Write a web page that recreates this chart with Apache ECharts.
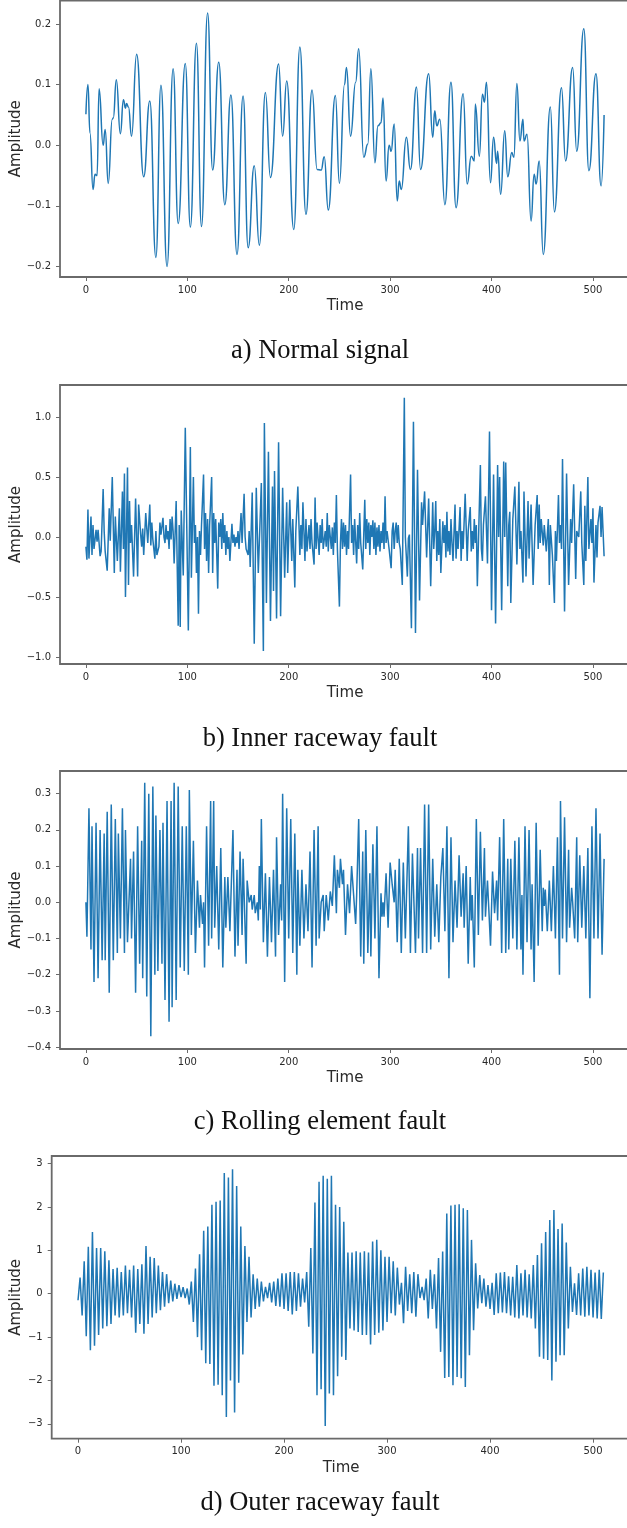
<!DOCTYPE html>
<html><head><meta charset="utf-8">
<script src="https://cdn.jsdelivr.net/npm/echarts@6.0.0/dist/echarts.min.js"></script>
<style>html,body{margin:0;padding:0;background:#fff}#chart{width:627px;height:1528px}</style>
</head><body><div id="chart"></div>
<script>
// ---------- DATA ----------
const xTicks = [0, 100, 200, 300, 400, 500];
const captions = ['a) Normal signal', 'b) Inner raceway fault', 'c) Rolling element fault', 'd) Outer raceway fault'];
const yTicksNormal = [-0.2, -0.1, 0, 0.1, 0.2];
const yTicksInner = [-1.0, -0.5, 0, 0.5, 1.0];
const yTicksRolling = [-0.4, -0.3, -0.2, -0.1, 0, 0.1, 0.2, 0.3];
const yTicksOuter = [-3, -2, -1, 0, 1, 2, 3];

// [time, amplitude] turning points of the normal signal
const normalSignal = [[0,0.051],[2,0.10],[4,0.02],[7,-0.073],[9,-0.048],[11,-0.05],[13,0.093],[17,0.0],[19,0.026],[22,-0.063],[26,0.043],[27,0.045],[30,0.108],[34,0.019],[37,0.075],[39,0.061],[40,0.069],[42,0.063],[45,0.015],[50,0.150],[57,-0.052],[63,0.073],[69,-0.185],[74,0.099],[80,-0.20],[86,0.126],[91,-0.129],[98,0.135],[103,-0.135],[109,0.168],[114,-0.134],[120,0.218],[125,-0.041],[131,0.137],[137,-0.098],[143,0.083],[149,-0.180],[155,0.081],[160,-0.169],[166,-0.034],[171,-0.165],[177,0.087],[182,-0.053],[190,0.134],[194,0.015],[198,0.106],[205,-0.139],[211,0.162],[217,-0.114],[223,0.091],[228,-0.040],[232,-0.041],[235,-0.019],[239,-0.107],[246,0.082],[250,-0.063],[255,0.10],[257,0.128],[261,0.015],[266,0.104],[269,0.159],[274,-0.020],[278,0.002],[281,0.126],[285,-0.029],[288,0.032],[291,0.037],[293,0.078],[296,-0.059],[299,0.0],[301,-0.01],[304,0.035],[307,-0.092],[309,-0.059],[311,-0.073],[316,0.013],[320,-0.040],[326,0.096],[330,-0.040],[338,0.118],[342,0.013],[344,0.057],[346,0.032],[349,0.043],[354,-0.098],[360,0.104],[365,-0.103],[372,0.085],[376,-0.064],[380,-0.018],[383,-0.026],[384,0.068],[388,-0.018],[391,0.084],[393,0.071],[395,0.104],[399,-0.062],[402,0.013],[405,-0.03],[406,-0.01],[409,-0.081],[413,0.024],[416,-0.052],[420,-0.012],[422,-0.02],[425,0.102],[428,0.007],[431,0.043],[432,0.007],[435,0.018],[439,-0.125],[442,-0.048],[444,-0.064],[447,-0.026],[451,-0.180],[458,0.063],[462,-0.110],[469,0.095],[473,-0.026],[480,0.128],[484,-0.010],[491,0.192],[496,-0.042],[503,0.118],[508,-0.067],[511,0.050]];

// [time, amplitude] inner raceway fault
const innerFault = [[0,-0.08],[1,-0.19],[2,0.23],[3,-0.18],[5,0.17],[6,-0.15],[7,0.10],[8,-0.10],[10,0.06],[11,-0.04],[12,0.06],[14,-0.16],[15,-0.12],[17,0.40],[18,0.05],[19,-0.12],[21,-0.28],[23,0.24],[24,-0.03],[26,0.50],[28,-0.30],[29,0.17],[31,-0.20],[33,0.24],[34,-0.29],[36,0.38],[37,-0.10],[38,0.53],[39,-0.50],[41,0.58],[42,-0.40],[43,0.30],[44,-0.05],[45,0.10],[47,-0.33],[49,0.32],[51,-0.33],[52,0.27],[54,0.02],[55,-0.08],[56,0.07],[57,-0.15],[59,0.20],[61,-0.05],[63,0.27],[64,-0.07],[65,0.12],[66,-0.02],[68,-0.18],[69,0.05],[70,-0.15],[72,-0.08],[73,0.12],[74,0.02],[76,0.16],[77,0.0],[78,-0.05],[79,0.10],[80,-0.02],[81,0.05],[82,-0.10],[83,0.15],[84,-0.02],[85,0.17],[86,0.05],[87,-0.22],[89,0.30],[91,-0.74],[92,0.10],[93,-0.75],[94,0.22],[96,-0.32],[98,0.91],[101,-0.78],[103,0.75],[104,-0.34],[106,0.50],[107,-0.05],[108,0.10],[109,-0.30],[110,0.0],[111,-0.64],[112,0.05],[113,-0.15],[114,0.10],[116,0.52],[117,-0.10],[118,0.20],[119,-0.20],[120,0.15],[121,-0.30],[122,0.10],[124,0.50],[125,-0.30],[126,0.20],[127,-0.05],[128,0.15],[130,-0.43],[131,0.12],[132,0.0],[133,0.15],[134,-0.10],[135,0.20],[136,-0.05],[137,0.10],[138,-0.15],[139,0.05],[140,-0.10],[141,0.0],[142,-0.20],[144,0.11],[145,-0.05],[146,0.02],[147,-0.08],[148,0.0],[149,-0.05],[150,0.05],[151,-0.10],[153,0.20],[154,-0.05],[156,0.36],[157,0.0],[158,-0.10],[160,-0.15],[161,0.05],[162,-0.25],[164,0.37],[166,-0.89],[168,0.41],[170,-0.30],[173,0.45],[175,-0.95],[176,0.95],[178,-0.55],[180,0.71],[182,-0.70],[184,0.42],[185,-0.45],[186,0.55],[188,-0.68],[190,0.79],[192,-0.66],[194,0.41],[196,-0.34],[198,0.29],[199,-0.30],[201,0.31],[203,-0.20],[204,0.15],[206,-0.42],[207,0.05],[209,0.42],[211,-0.15],[212,0.10],[213,-0.10],[214,0.29],[216,-0.20],[217,0.15],[218,-0.12],[220,0.10],[221,-0.10],[222,0.15],[223,-0.05],[225,-0.23],[226,0.33],[227,-0.10],[228,0.12],[230,-0.15],[231,0.10],[232,-0.05],[233,0.15],[234,-0.10],[236,0.05],[237,-0.08],[238,0.20],[239,-0.12],[240,0.10],[242,-0.10],[243,0.08],[244,-0.15],[245,0.12],[246,-0.05],[247,0.35],[248,-0.10],[250,-0.58],[251,-0.05],[252,0.15],[253,-0.10],[254,0.12],[255,-0.08],[256,0.10],[257,-0.15],[258,0.05],[259,-0.10],[261,0.52],[262,-0.05],[263,0.10],[264,-0.15],[265,0.15],[267,-0.22],[268,0.10],[269,-0.10],[270,0.20],[271,-0.05],[273,-0.27],[275,0.31],[276,-0.10],[277,0.15],[278,-0.05],[279,0.12],[280,-0.15],[281,0.10],[282,0.0],[283,0.14],[284,-0.10],[285,0.12],[286,-0.15],[287,0.08],[288,-0.08],[289,0.10],[290,-0.12],[291,0.05],[292,-0.05],[293,0.12],[294,-0.10],[295,0.34],[296,-0.05],[297,0.05],[299,-0.10],[301,-0.26],[302,0.05],[303,0.12],[304,-0.10],[305,0.05],[306,0.12],[307,-0.05],[308,0.10],[309,-0.05],[310,-0.10],[312,-0.40],[314,1.16],[315,0.0],[317,-0.33],[318,-0.01],[319,0.02],[321,-0.76],[323,0.96],[325,-0.80],[327,0.56],[329,-0.53],[331,0.29],[332,0.10],[334,0.38],[336,-0.17],[338,0.32],[340,-0.41],[342,0.29],[343,-0.10],[344,0.05],[345,0.30],[346,-0.20],[347,0.05],[348,-0.15],[349,0.15],[350,-0.30],[352,0.13],[353,-0.05],[354,0.10],[355,-0.17],[356,0.21],[357,-0.12],[358,0.05],[359,-0.15],[360,0.15],[361,-0.05],[362,-0.20],[364,0.27],[365,-0.18],[366,0.05],[367,-0.10],[369,0.25],[370,-0.20],[371,0.05],[372,-0.10],[374,0.36],[376,-0.20],[377,0.05],[379,0.25],[380,-0.12],[381,0.05],[382,-0.10],[383,0.15],[384,-0.05],[385,0.10],[386,-0.41],[389,0.60],[390,-0.10],[391,-0.20],[392,0.10],[394,0.34],[396,-0.22],[398,0.88],[400,-0.61],[402,0.52],[404,-0.72],[406,0.60],[407,0.0],[408,0.50],[410,-0.61],[412,0.63],[413,0.0],[414,0.62],[416,-0.41],[417,0.10],[418,0.21],[419,-0.55],[421,0.15],[423,0.42],[425,-0.23],[426,0.10],[427,0.46],[428,-0.10],[429,0.05],[431,-0.38],[432,0.38],[434,-0.33],[436,0.30],[437,-0.18],[439,0.27],[441,-0.40],[443,0.10],[445,0.35],[446,-0.10],[447,0.27],[448,-0.05],[449,0.15],[451,-0.07],[452,0.10],[454,-0.12],[456,0.15],[457,-0.40],[458,0.10],[460,-0.15],[462,-0.55],[463,0.05],[464,-0.20],[466,0.35],[467,-0.05],[468,0.10],[469,-0.10],[470,0.65],[472,-0.62],[474,0.53],[476,-0.40],[478,0.15],[479,-0.05],[481,0.44],[483,-0.35],[484,0.05],[486,0.0],[488,0.38],[489,-0.05],[491,-0.40],[492,0.26],[493,-0.20],[495,0.50],[496,-0.10],[498,0.15],[499,-0.05],[500,0.24],[501,-0.38],[503,0.10],[504,-0.17],[505,0.12],[507,0.26],[508,0.0],[509,0.25],[511,-0.16]];

// [time, amplitude] rolling element fault
const rollingFault = [[0,0.0],[1,-0.095],[3,0.26],[5,-0.13],[6,0.21],[8,-0.22],[10,0.22],[12,-0.21],[14,0.20],[16,-0.16],[18,0.19],[19,-0.16],[21,0.25],[23,-0.25],[25,0.27],[27,-0.16],[29,0.23],[31,-0.14],[32,0.19],[34,-0.10],[36,0.26],[38,-0.14],[39,0.20],[41,-0.11],[44,0.12],[45,-0.10],[47,0.14],[49,-0.25],[51,0.21],[53,-0.17],[55,0.17],[56,-0.21],[58,0.33],[60,-0.26],[62,0.30],[64,-0.37],[66,0.32],[68,-0.20],[69,0.24],[71,-0.19],[73,0.20],[75,-0.17],[76,0.22],[78,-0.27],[80,0.28],[82,-0.33],[84,0.28],[85,-0.29],[87,0.33],[89,-0.27],[91,0.32],[93,-0.18],[95,0.21],[97,-0.19],[99,0.21],[101,-0.20],[102,0.31],[104,-0.09],[106,0.17],[108,-0.14],[110,0.06],[112,-0.07],[113,0.02],[115,-0.06],[116,0.0],[117,-0.18],[119,0.21],[121,-0.12],[123,0.28],[124,-0.10],[126,0.28],[127,-0.07],[129,0.10],[131,-0.13],[133,0.15],[135,-0.18],[137,0.07],[138,-0.07],[140,0.07],[142,-0.08],[145,0.20],[147,-0.15],[149,0.09],[150,-0.12],[152,0.14],[154,-0.09],[155,0.12],[158,-0.17],[159,0.06],[161,0.0],[163,0.02],[164,-0.02],[166,0.02],[167,-0.03],[169,0.0],[170,-0.05],[171,0.10],[172,-0.02],[173,0.23],[175,-0.11],[177,0.08],[179,-0.15],[181,0.07],[183,-0.11],[185,0.09],[187,-0.15],[188,0.18],[190,-0.09],[192,0.05],[193,-0.05],[194,0.30],[196,-0.22],[198,0.26],[200,-0.10],[202,0.23],[204,-0.14],[206,0.19],[208,-0.20],[209,0.09],[211,-0.12],[213,0.09],[215,-0.10],[217,0.05],[219,-0.08],[221,0.14],[223,-0.18],[225,0.20],[227,-0.12],[229,0.21],[230,-0.10],[232,0.0],[234,0.02],[235,-0.08],[237,0.02],[239,-0.05],[241,0.03],[243,-0.01],[245,0.13],[247,-0.03],[248,0.09],[250,0.04],[251,0.12],[253,0.05],[254,0.09],[256,-0.09],[258,0.05],[260,-0.03],[262,0.10],[264,0.02],[266,-0.06],[267,0.02],[269,0.23],[271,-0.15],[273,0.14],[274,-0.17],[276,0.20],[278,-0.14],[280,0.08],[281,-0.15],[283,0.16],[285,-0.10],[287,0.21],[289,-0.21],[291,0.025],[292,-0.04],[293,0.0],[294,-0.04],[296,0.08],[298,-0.07],[300,0.11],[302,0.05],[304,0.0],[305,0.09],[307,-0.11],[309,0.12],[311,-0.14],[313,0.11],[315,-0.10],[318,0.21],[320,-0.14],[322,0.135],[325,-0.14],[327,0.15],[328,-0.10],[330,0.15],[332,-0.14],[334,0.27],[336,-0.14],[338,0.27],[340,-0.13],[342,0.12],[344,-0.095],[346,0.05],[348,-0.11],[350,0.07],[352,0.15],[354,-0.08],[356,0.21],[358,-0.21],[360,0.18],[362,-0.11],[364,0.06],[366,-0.07],[368,0.13],[370,-0.04],[372,0.08],[373,-0.07],[375,0.10],[377,-0.17],[379,0.07],[380,-0.05],[381,0.02],[383,-0.18],[385,0.23],[387,-0.09],[389,0.195],[391,-0.05],[393,0.15],[394,-0.04],[396,0.06],[397,0.0],[399,-0.12],[401,0.085],[403,-0.03],[405,0.06],[406,-0.05],[408,0.18],[410,-0.14],[412,0.23],[414,-0.14],[416,0.12],[417,-0.13],[419,0.12],[421,-0.10],[423,0.17],[425,-0.13],[427,0.18],[429,-0.13],[430,0.02],[431,-0.20],[433,0.21],[435,-0.11],[437,0.20],[439,-0.13],[440,0.05],[442,-0.22],[444,0.22],[446,-0.12],[448,0.145],[450,-0.08],[451,0.04],[452,-0.01],[453,0.035],[455,-0.08],[457,0.06],[459,-0.08],[461,0.10],[463,-0.10],[465,0.18],[467,-0.20],[468,0.28],[470,-0.10],[472,0.235],[474,-0.11],[476,0.145],[477,-0.07],[479,0.04],[480,0.0],[482,-0.10],[484,0.18],[485,-0.11],[487,0.13],[489,-0.07],[491,0.10],[493,-0.10],[495,0.15],[497,-0.265],[499,0.21],[501,-0.10],[503,0.26],[505,-0.10],[507,0.19],[509,-0.145],[511,0.12]];

// outer raceway fault: amplitude read every 2nd sample (t = 0, 2, 4, ... 510)
const outerStep = 2;
const outerFault = [
-0.15,0.37,-0.50,0.75,-0.98,1.08,-1.30,1.42,-1.20,1.05,-0.95,1.05,-0.80,0.98,-0.75,0.77,-0.70,0.57,-0.50,0.60,
-0.55,0.50,-0.50,0.65,-0.45,0.55,-0.55,0.65,-0.90,0.57,-0.70,0.68,-0.92,1.10,-0.70,0.85,-0.55,0.82,-0.45,0.65,
-0.38,0.50,-0.30,0.45,-0.22,0.30,-0.18,0.23,-0.12,0.20,-0.08,0.15,-0.10,0.12,-0.25,0.28,-0.65,0.58,-1.00,0.91,
-1.30,1.45,-1.60,1.55,-1.62,2.05,-2.12,2.12,-2.10,2.15,-2.34,2.78,-2.84,2.68,-2.00,2.87,-2.74,2.48,-2.05,1.55,
-1.40,1.10,-0.65,0.85,-0.55,0.45,-0.35,0.35,-0.30,0.28,-0.18,0.16,-0.10,0.25,-0.20,0.28,-0.28,0.35,-0.30,0.47,
-0.35,0.47,-0.40,0.50,-0.48,0.50,-0.40,0.47,-0.30,0.35,-0.20,0.50,-0.76,1.05,-1.38,2.10,-2.34,2.58,-2.20,2.72,
-3.05,2.65,-2.30,2.72,-2.34,2.05,-1.90,2.00,-1.45,1.66,-1.53,0.95,-0.80,0.95,-0.85,0.98,-0.88,0.95,-0.95,0.98,
-0.95,0.95,-1.17,1.20,-0.95,1.24,-0.90,1.00,-0.85,0.85,-0.65,0.85,-0.45,0.75,-0.50,0.60,-0.25,0.25,-0.68,0.62,
-0.40,0.45,-0.45,0.50,-0.53,0.45,-0.10,0.16,-0.15,0.35,-0.57,0.55,-0.35,0.45,-0.80,0.82,-1.34,0.97,-1.94,1.85,
-1.92,2.03,-2.11,2.05,-1.92,2.06,-1.95,1.97,-2.15,1.93,-1.42,1.24,-0.84,0.70,-0.34,0.43,-0.22,0.35,-0.30,0.20,
-0.35,0.25,-0.49,0.47,-0.45,0.49,-0.43,0.50,-0.45,0.40,-0.50,0.39,-0.55,0.66,-0.57,0.47,-0.50,0.55,-0.55,0.45,
-0.57,0.66,-0.80,0.89,-1.45,1.16,-1.50,1.42,-1.53,1.70,-2.00,1.93,-1.57,1.49,-1.42,1.62,-1.42,1.18,-0.80,0.62,
-0.42,0.24,-0.49,0.47,-0.50,0.58,-0.53,0.62,-0.50,0.55,-0.55,0.49,-0.57,0.55,-0.58,0.49
];

// ---------- LAYOUT ----------
const X_MIN = -25.55, X_MAX = 536.55;
const panels = [
  { data: normalSignal, ticks: yTicksNormal, dec: 1, top: 0.5, height: 276.5, left: 60, width: 570, ymin: -0.2173, ymax: 0.2387, smooth: 0.5, yGap: 36.5, capY: 351 },
  { data: innerFault, ticks: yTicksInner, dec: 1, top: 385, height: 279, left: 60, width: 570, ymin: -1.0583, ymax: 1.2667, smooth: false, yGap: 36.5, capY: 739 },
  { data: rollingFault, ticks: yTicksRolling, dec: 1, top: 771, height: 278, left: 60, width: 570, ymin: -0.4052, ymax: 0.3627, smooth: false, yGap: 36.5, capY: 1122 },
  { data: outerFault.map((v, i) => [i * outerStep, v]), ticks: yTicksOuter, dec: 0, top: 1156, height: 282.7, left: 51.7, width: 579, ymin: -3.341, ymax: 3.173, smooth: false, yGap: 28, capY: 1503 }
];

function fmt(v, dec) {
  const s = Math.abs(v).toFixed(dec);
  return (v < -1e-9 ? '\u2212' : '') + s;
}

const FRAME = '#6a6a6a';
const TXT = '#2a2a2a';
const option = {
  animation: false,
  backgroundColor: '#ffffff',
  grid: panels.map(p => ({ left: p.left, top: p.top, width: p.width, height: p.height, show: true, borderColor: FRAME, borderWidth: 1.8, backgroundColor: 'transparent', containLabel: false, outerBoundsMode: 'none' })),
  xAxis: panels.map((p, i) => ({
    type: 'value', gridIndex: i, min: X_MIN, max: X_MAX, position: 'bottom',
    axisLine: { show: false, onZero: false },
    splitLine: { show: false },
    axisTick: { show: true, customValues: xTicks, length: 4, lineStyle: { color: FRAME, width: 1 } },
    axisLabel: { customValues: xTicks, margin: 8, fontFamily: 'DejaVu Sans', fontSize: 10, color: TXT, formatter: v => fmt(v, 0) },
    name: 'Time', nameLocation: 'middle', nameGap: 22, nameMoveOverlap: false,
    nameTextStyle: { fontFamily: 'DejaVu Sans', fontSize: 15, color: TXT }
  })),
  yAxis: panels.map((p, i) => ({
    type: 'value', gridIndex: i, min: p.ymin, max: p.ymax, position: 'left',
    axisLine: { show: false, onZero: false },
    splitLine: { show: false },
    axisTick: { show: true, customValues: p.ticks, length: 4, lineStyle: { color: FRAME, width: 1 } },
    axisLabel: { customValues: p.ticks, margin: 9, fontFamily: 'DejaVu Sans', fontSize: 10, color: TXT, formatter: v => fmt(v, p.dec) },
    name: 'Amplitude', nameLocation: 'middle', nameGap: p.yGap, nameMoveOverlap: false,
    nameTextStyle: { fontFamily: 'DejaVu Sans', fontSize: 15, color: TXT }
  })),
  series: panels.map((p, i) => ({
    type: 'line', xAxisIndex: i, yAxisIndex: i, data: p.data,
    showSymbol: false, symbol: 'none', smooth: p.smooth, smoothMonotone: p.smooth ? 'x' : undefined,
    lineStyle: { color: '#1f77b4', width: 1.5 }, silent: true
  })),
  graphic: panels.map((p, i) => ({
    type: 'text', x: 320, y: p.capY,
    style: { text: captions[i], fontFamily: 'Liberation Serif', fontSize: 26.5, fill: '#111', align: 'center', verticalAlign: 'middle' }
  }))
};

const chart = echarts.init(document.getElementById('chart'), null, { renderer: 'canvas' });
chart.setOption(option);
</script>
</body></html>
